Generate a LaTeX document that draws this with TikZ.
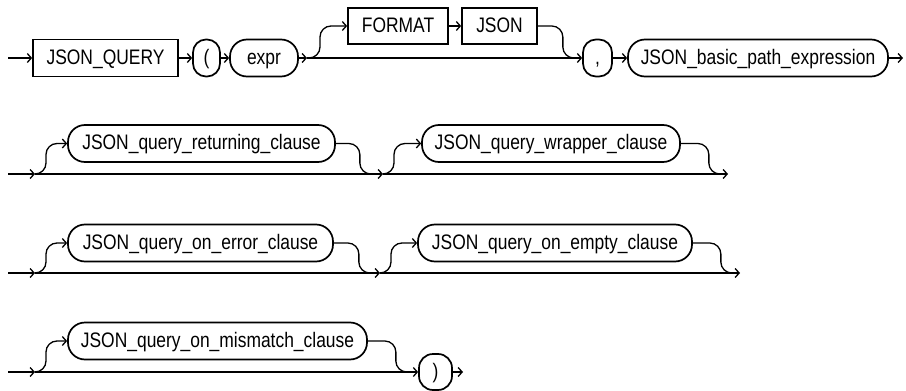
\documentclass[tikz,border=0pt]{standalone}
\usepackage{fontspec}
\setmainfont{Liberation Sans}[FakeStretch=0.83]
\usetikzlibrary{arrows.meta, positioning}
\newcommand{\rrfont}{\fontsize{21}{24}\selectfont}
\tikzset{
  rrBox/.style={rectangle, draw=black, line width=1.7pt, text height=16pt, text depth=4pt,
    minimum height=37pt, inner sep=0pt, font=\rrfont},
  rrOval/.style={rectangle, rounded corners=17pt, draw=black, line width=1.7pt,
    text height=16pt, text depth=4pt, minimum height=37pt, inner sep=0pt, font=\rrfont},
  rrLine/.style={line width=1.3pt, black, rounded corners=11pt},
  rrArrow/.style={rrLine, -{Straight Barb[length=4pt, width=9pt]}}
}
\begin{document}
\begin{tikzpicture}[x=1pt, y=-1pt]
  \useasboundingbox (0,0) rectangle (906,391);
  % row 1
  \coordinate (r1s) at (8,58);
  \coordinate (r1a) at (307,58);
  \coordinate (r1m) at (577,58);
  \coordinate (r1e) at (903,58);
  \node[rrBox, minimum width=145pt] (jq) at (105.5,58) {JSON\_QUERY};
  \node[rrOval, rounded corners=13pt, minimum width=27pt] (lp) at (206.5,58) {(};
  \node[rrOval, minimum width=68pt] (expr) at (264,58) {expr};
  \node[rrBox, minimum width=100pt, minimum height=36pt] (fmt) at (398,26) {FORMAT};
  \node[rrBox, minimum width=75pt, minimum height=36pt] (json) at (499.5,26) {JSON};
  \node[rrOval, rounded corners=13pt, minimum width=29pt] (comma) at (597.5,58) {,};
  \node[rrOval, minimum width=260pt] (basic) at (758,58) {JSON\_basic\_path\_expression};
  \draw[rrArrow] (r1s) -- (jq);
  \draw[rrArrow] (jq) -- (lp);
  \draw[rrArrow] (lp) -- (expr);
  \draw[rrArrow] (expr) -- (r1a);
  \draw[rrArrow] (r1a) -- (comma);
  \draw[rrArrow] (r1a) -- ++(13,0) -- ++(0,-32) -- (fmt);
  \draw[rrArrow] (fmt) -- (json);
  \draw[rrLine] (json.east) -- ++(25,0) -- ++(0,32) -- (r1m);
  \draw[rrArrow] (comma) -- (basic);
  \draw[rrArrow] (basic) -- (r1e);
  % row 2
  \coordinate (r2s) at (8,174);
  \coordinate (r2a) at (35,174);
  \coordinate (r2b) at (383,174);
  \coordinate (r2e) at (728,174);
  \node[rrOval, minimum width=267pt] (ret) at (201.5,143.5) {JSON\_query\_returning\_clause};
  \node[rrOval, minimum width=258pt] (wrap) at (551,143.5) {JSON\_query\_wrapper\_clause};
  \draw[rrArrow] (r2s) -- (r2a);
  \draw[rrArrow] (r2a) -- (r2b);
  \draw[rrArrow] (r2b) -- (r2e);
  \draw[rrArrow] (r2a) -- ++(11,0) -- ++(0,-30.5) -- (ret);
  \draw[rrLine] (ret.east) -- ++(24,0) -- ++(0,30.5) -- ++(12,0);
  \draw[rrArrow] (r2b) -- ++(11,0) -- ++(0,-30.5) -- (wrap);
  \draw[rrLine] (wrap.east) -- ++(28,0) -- ++(0,30.5) -- ++(12,0);
  % row 3
  \coordinate (r3s) at (8,273);
  \coordinate (r3a) at (35,273);
  \coordinate (r3b) at (380,273);
  \coordinate (r3e) at (740,273);
  \node[rrOval, minimum width=265pt] (err) at (200.5,243) {JSON\_query\_on\_error\_clause};
  \node[rrOval, minimum width=274pt] (empty) at (555,243) {JSON\_query\_on\_empty\_clause};
  \draw[rrArrow] (r3s) -- (r3a);
  \draw[rrArrow] (r3a) -- (r3b);
  \draw[rrArrow] (r3b) -- (r3e);
  \draw[rrArrow] (r3a) -- ++(11,0) -- ++(0,-30) -- (err);
  \draw[rrLine] (err.east) -- ++(25,0) -- ++(0,30) -- ++(12,0);
  \draw[rrArrow] (r3b) -- ++(11,0) -- ++(0,-30) -- (empty);
  \draw[rrLine] (empty.east) -- ++(28,0) -- ++(0,30) -- ++(12,0);
  % row 4
  \coordinate (r4s) at (8,372);
  \coordinate (r4a) at (35,372);
  \coordinate (r4e) at (463,372);
  \node[rrOval, minimum width=299pt] (mis) at (217.5,341) {JSON\_query\_on\_mismatch\_clause};
  \node[rrOval, rounded corners=14pt, minimum width=33pt, minimum height=36pt] (rp) at (435.5,372) {)};
  \draw[rrArrow] (r4s) -- (r4a);
  \draw[rrArrow] (r4a) -- (rp);
  \draw[rrArrow] (r4a) -- ++(11,0) -- ++(0,-31) -- (mis);
  \draw[rrLine] (mis.east) -- ++(28,0) -- ++(0,31) -- ++(12,0);
  \draw[rrArrow] (rp) -- (r4e);
\end{tikzpicture}
\end{document}
